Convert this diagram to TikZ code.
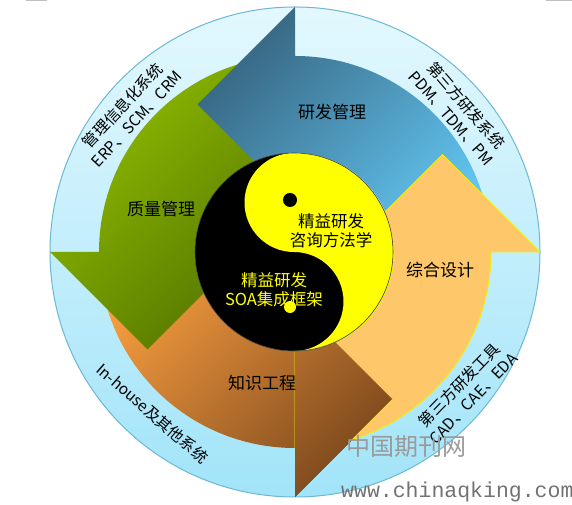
\documentclass[tikz,border=0pt]{standalone}
\usepackage{fontspec}
\newfontfamily\cjk{Noto Sans CJK SC}
\newfontfamily\monof{Liberation Mono}
\definecolor{ringtop}{HTML}{E3F8FE}
\definecolor{ringbot}{HTML}{A2E4F9}
\definecolor{ringline}{HTML}{6BB8D4}
\definecolor{blueA}{HTML}{376580}
\definecolor{blueB}{HTML}{62C6F2}
\definecolor{greenA}{HTML}{92BF00}
\definecolor{greenB}{HTML}{527400}
\definecolor{brownA}{HTML}{F59C3E}
\definecolor{brownB}{HTML}{7C481D}
\definecolor{orng}{HTML}{FEC86A}
\definecolor{orngline}{HTML}{F2EC10}
\definecolor{yy}{HTML}{FFFF00}
\definecolor{wm}{HTML}{9A9A9A}
\definecolor{wm2}{HTML}{727272}
\newcommand\arrowshape[2]{(#1-90:196pt) arc[start angle=#1-90,end angle=#1,radius=196pt] -- (#1:245pt) -- #2 -- (#1:50pt) -- (#1:99pt) arc[start angle=#1,end angle=#1-90,radius=99pt] -- cycle}
\tikzset{
  lbl/.style={font=\cjk\fontsize{17}{20}\selectfont, text=black, inner sep=0pt},
  ringtxt/.style={font=\cjk\fontsize{15.5}{19.5}\selectfont, text=black, align=center, inner sep=0pt},
  yytxt/.style={font=\cjk\fontsize{16.5}{19}\selectfont, align=center, inner sep=0pt}
}
\begin{document}
\begin{tikzpicture}[x=1pt,y=1pt]
\useasboundingbox (0,0) rectangle (572,505);
% outer ring
\shade[top color=ringtop, bottom color=ringbot] (295,253) circle[radius=245pt];
\draw[ringline, line width=1pt] (295,253) circle[radius=245pt];
\begin{scope}[shift={(295,253)}]
  % brown (bottom)
  \begin{scope}
    \clip \arrowshape{270}{(97.5,-147.5)};
    \shade[top color=brownA, bottom color=brownB, shading angle=45] (-200,-250) rectangle (100,0);
  \end{scope}
  % green (left)
  \begin{scope}
    \clip \arrowshape{180}{(-147.5,-97.5)};
    \shade[top color=greenA, bottom color=greenB, shading angle=45] (-250,-100) rectangle (0,200);
  \end{scope}
  % blue (top)
  \begin{scope}
    \clip \arrowshape{90}{(-97.5,147.5)};
    \shade[top color=blueA, bottom color=blueB, shading angle=45] (-100,0) rectangle (200,250);
  \end{scope}
  % light orange (right)
  \fill[orng] \arrowshape{0}{(147.5,97.5)};
  \draw[orngline, line width=1pt, line join=miter] \arrowshape{0}{(147.5,97.5)};
  % brown head on top
  \begin{scope}
    \clip (270:245pt) -- (97.5,-147.5) -- (270:50pt) -- cycle;
    \shade[top color=brownA, bottom color=brownB, shading angle=45] (-200,-250) rectangle (100,0);
  \end{scope}
  \begin{scope}
    \clip (0,0) circle[radius=196pt];
    \draw[orngline, line width=0.8pt] (97.5,-147.5) -- (270:245pt);
  \end{scope}
  % yin-yang
  \begin{scope}[shift={(-1,0)}]
    \fill[black] (0,0) circle[radius=99pt];
    \fill[yy] (90:99pt) arc[start angle=90,end angle=-90,radius=99pt]
      arc[start angle=-90,end angle=90,radius=49.5pt]
      arc[start angle=-90,end angle=-270,radius=49.5pt] -- cycle;
    \draw[black!70, line width=0.6pt] (0,0) circle[radius=99pt];
  \end{scope}
  \fill[black] (-5,52) circle[radius=7pt];
  \fill[yy] (-5,-55) circle[radius=6pt];
\end{scope}
% labels
\node[lbl] (yfgl) at (332,393) {研发管理};
\node[lbl] (zhsj) at (440,235) {综合设计};
\node[lbl] (zsgc) at (262,122) {知识工程};
\node[lbl] (zlgl) at (161,296) {质量管理};
\node[yytxt, text=black] (zxff) at (331,274.5) {精益研发\\咨询方法学};
\node[yytxt, text=yy] (soa) at (274,215.5) {精益研发\\SOA集成框架};
% ring texts
\node[ringtxt, rotate=47] (ul) at (129.5,393) {管理信息化系统\\ERP、SCM、CRM};
\node[ringtxt, rotate=-49] (ur) at (459,393.5) {第三方研发系统\\PDM、TDM、PM};
\node[ringtxt, rotate=-41] (ll) at (152.5,91.5) {In-house及其他系统};
\node[ringtxt, rotate=46] (lr) at (466,113.5) {第三方研发工具\\CAD、CAE、EDA};
% watermark
\node[font=\cjk\fontsize{24}{24}\selectfont, text=wm, inner sep=0pt] (wmcn) at (406,58.5) {中国期刊网};
\node[font=\monof\fontsize{21.5}{22}\selectfont, text=wm2, inner sep=0pt, anchor=base west] (wmurl) at (341,7) {www.chinaqking.com};
% frame bits
\draw[black!25, line width=0.8pt] (26,504.5) -- (47,504.5);
\draw[black!25, line width=0.8pt] (546,504.5) -- (572,504.5);
\end{tikzpicture}
\end{document}
